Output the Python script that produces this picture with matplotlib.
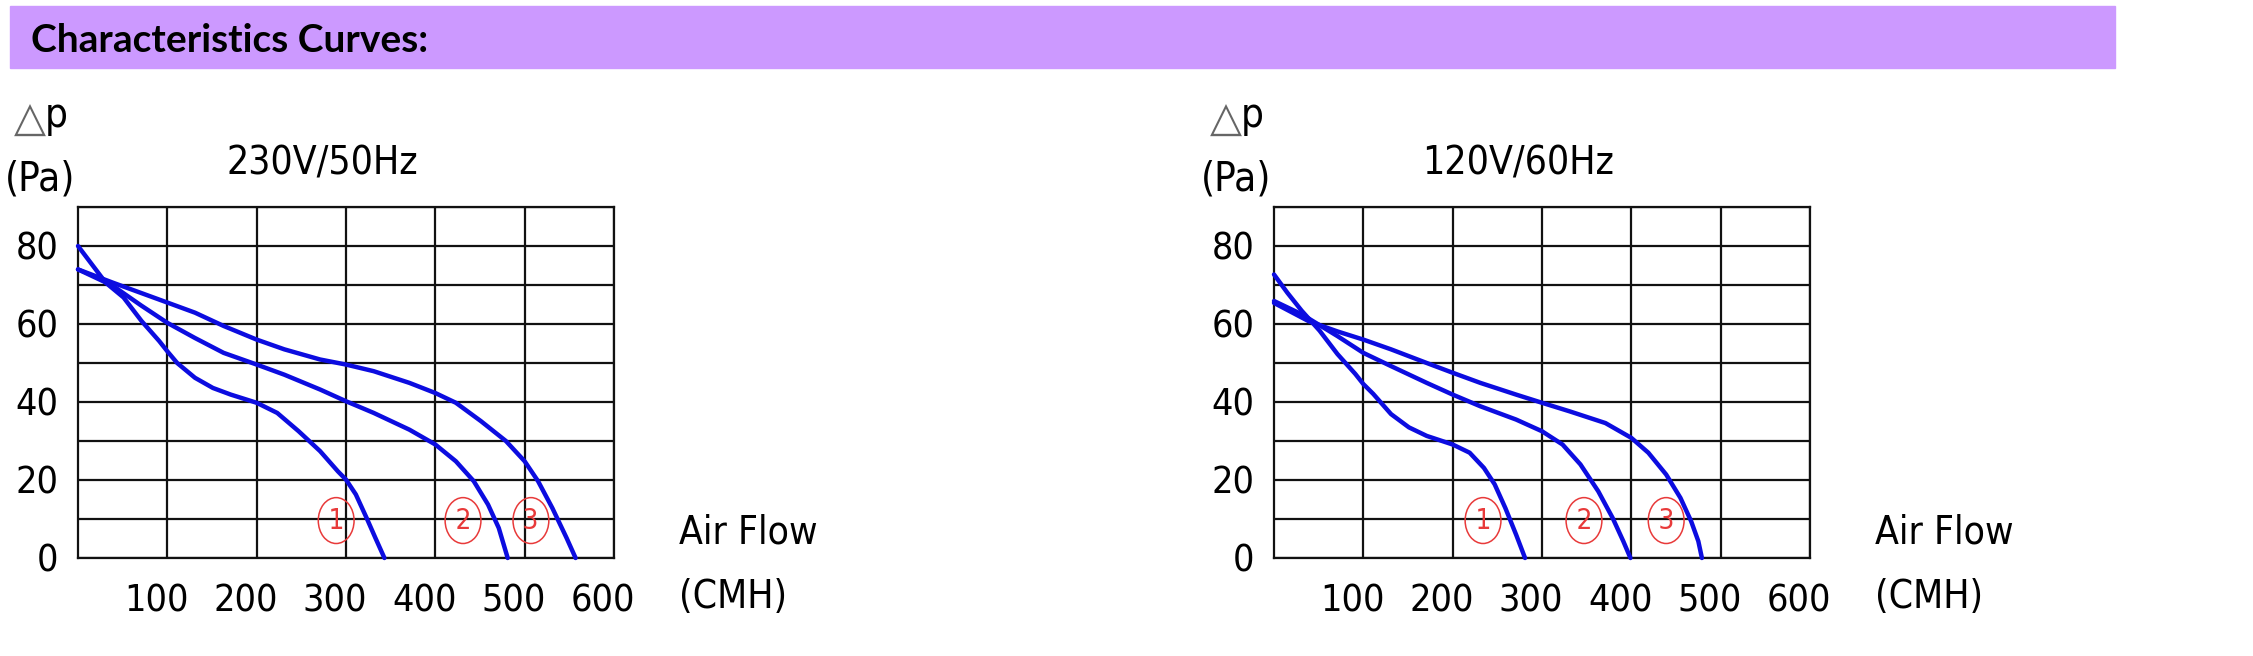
import matplotlib
matplotlib.use("Agg")
import matplotlib.pyplot as plt
import matplotlib.transforms as mtransforms
from matplotlib.patches import Rectangle

W, H = 2253, 656

# 230V/50Hz curves (air flow CMH, pressure Pa)
flow_230_1 = [0, 31, 51, 71, 91, 100, 111, 131, 151, 171, 200, 223, 247, 271, 291, 300, 311, 323, 333, 343]
pa_230_1 = [80, 70.6, 66.8, 60.8, 55.6, 53, 50, 46.2, 43.6, 41.9, 39.8, 37.2, 32.5, 27.4, 22.2, 20.1, 16.3, 10.3, 5.1, 0]
flow_230_2 = [0, 39, 71, 100, 131, 163, 200, 231, 271, 300, 331, 371, 400, 423, 443, 459, 471, 481]
pa_230_2 = [74, 69.8, 64.7, 60.3, 56.4, 52.6, 49.6, 47, 43.2, 40.2, 37.2, 32.9, 29.1, 24.8, 19.7, 13.7, 7.7, 0]
flow_230_3 = [0, 39, 100, 131, 163, 200, 231, 271, 300, 331, 371, 400, 423, 451, 479, 500, 515, 531, 547, 557]
pa_230_3 = [74, 70.6, 65.5, 62.9, 59.5, 56, 53.5, 50.9, 49.6, 47.9, 44.9, 42.3, 39.8, 35.1, 30, 24.8, 19.7, 12.8, 5.1, 0]

# 120V/60Hz curves
flow_120_1 = [0, 15, 31, 51, 71, 91, 100, 111, 131, 151, 171, 200, 219, 235, 247, 259, 271, 281]
pa_120_1 = [72.7, 68, 63.4, 58.3, 52.3, 47.2, 44.6, 42.1, 36.9, 33.5, 31.3, 29.1, 27, 23.1, 18.9, 12.8, 6, 0]
flow_120_2 = [0, 31, 71, 100, 131, 171, 200, 231, 271, 300, 323, 343, 363, 379, 391, 399]
pa_120_2 = [65.9, 62.5, 56.9, 52.6, 49.2, 44.9, 41.9, 38.9, 35.5, 32.5, 29.1, 24, 17.1, 10.3, 4.3, 0]
flow_120_3 = [0, 39, 71, 100, 131, 171, 200, 231, 271, 300, 331, 371, 400, 419, 439, 455, 467, 475, 479]
pa_120_3 = [65.4, 60.7, 58.1, 56, 53.5, 50, 47.5, 44.9, 41.9, 39.8, 37.6, 34.6, 30.8, 27, 21.4, 15.4, 9.4, 4.3, 0]

label_x_230 = [289, 431, 507]
label_x_120 = [234, 347, 439]
curve_labels = ["1", "2", "3"]

x_ticks = [100, 200, 300, 400, 500, 600]
y_ticks = [0, 20, 40, 60, 80]

plt.rcParams['font.family'] = ['DejaVu Sans']
plt.rcParams['font.stretch'] = 'condensed'

fig = plt.figure(figsize=(W / 100, H / 100), dpi=100)


def fx(x):
    return x / W


def fy(y):
    return 1 - y / H


# banner
fig.patches.append(Rectangle((fx(10), fy(68)), (2115 - 10) / W, 62 / H,
                             transform=fig.transFigure, color='#cc99ff', zorder=0))
fig.text(fx(31), fy(40), "Characteristics Curves:", fontsize=28, fontweight='bold',
         family=['Lato', 'DejaVu Sans'], fontstretch='normal', va='center', ha='left')


def draw_chart(left_px, title, curves, label_xs):
    ax = fig.add_axes([fx(left_px), fy(558), 536 / W, 351 / H])
    for fl, pa in curves:
        ax.plot(fl, pa, color='#0c0ce0', lw=3.2, solid_joinstyle='round',
                solid_capstyle='round', zorder=3, clip_on=False)
    ax.set_xlim(0, 600)
    ax.set_ylim(0, 90)
    ax.set_xticks(x_ticks)
    ax.set_xticklabels([str(t) for t in x_ticks])
    ax.set_yticks(y_ticks)
    ax.set_yticklabels([str(t) for t in y_ticks])
    ax.set_yticks([10, 30, 50, 70, 90], minor=True)
    ax.grid(True, which='both', color='#111111', lw=1.6)
    ax.tick_params(which='both', length=0)
    ax.tick_params(axis='x', pad=18, labelsize=27)
    ax.tick_params(axis='y', pad=14, labelsize=27)
    shift = mtransforms.ScaledTranslation(-11 / 100, 0, fig.dpi_scale_trans)
    for lab in ax.get_xticklabels():
        lab.set_transform(lab.get_transform() + shift)
    for s in ax.spines.values():
        s.set_color('#111111')
        s.set_linewidth(1.6)
    ax.set_axisbelow(True)
    # circled curve numbers
    for xl, txt in zip(label_xs, curve_labels):
        ax.text(xl, 9.6, "\u200a" + txt + "\u200a", color='#e83a3a', fontsize=20,
                ha='center', va='center', zorder=4,
                bbox=dict(boxstyle='ellipse,pad=0.08', fc='none', ec='#e83a3a', lw=1.1))
    # axis labels
    fig.text(fx(left_px - 32), fy(120), "\u25b3", fontsize=30, ha='right', va='center',
             color='#666666', fontstretch='normal')
    fig.text(fx(left_px - 33), fy(116), "p", fontsize=29, ha='left', va='center')
    fig.text(fx(left_px - 38), fy(179), "(Pa)", fontsize=29, ha='center', va='center')
    fig.text(fx(left_px + 244), fy(164), title, fontsize=28, ha='center', va='center')
    fig.text(fx(left_px + 601), fy(533), "Air Flow", fontsize=28, ha='left', va='center')
    fig.text(fx(left_px + 601), fy(597), "(CMH)", fontsize=28, ha='left', va='center')
    return ax


draw_chart(78, "230V/50Hz",
           [(flow_230_1, pa_230_1), (flow_230_2, pa_230_2), (flow_230_3, pa_230_3)],
           label_x_230)
draw_chart(1274, "120V/60Hz",
           [(flow_120_1, pa_120_1), (flow_120_2, pa_120_2), (flow_120_3, pa_120_3)],
           label_x_120)

fig.savefig("out.png", dpi=100)
